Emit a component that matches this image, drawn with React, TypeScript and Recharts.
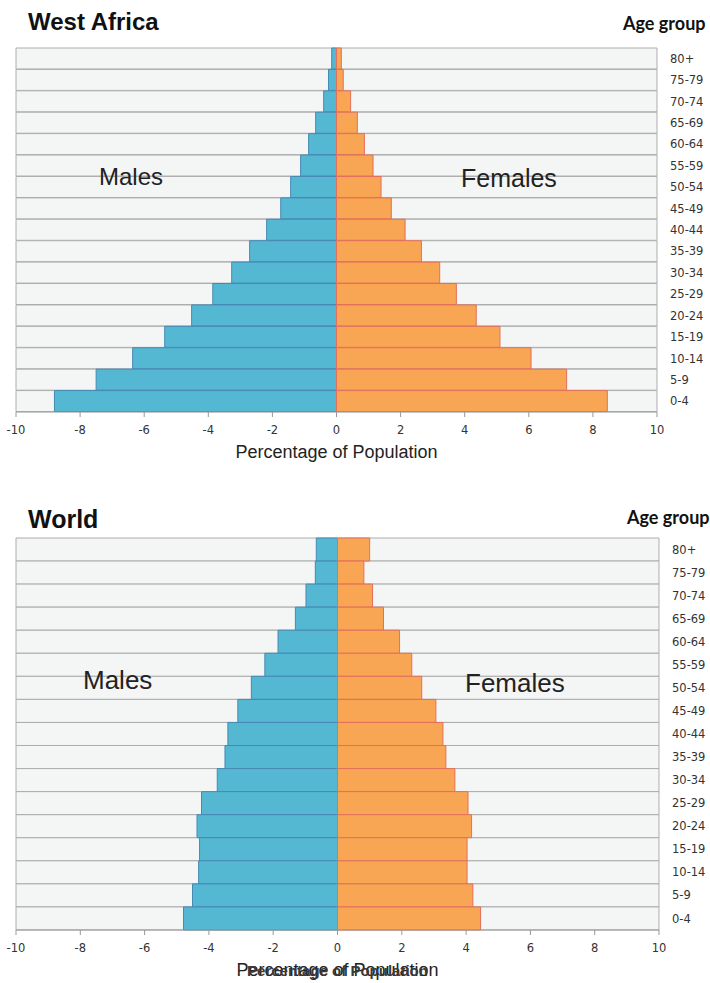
import React from "react";
import { BarChart, Bar, XAxis, YAxis, Label } from "recharts";

const ageGroups = [
	"80+", "75-79", "70-74", "65-69", "60-64", "55-59", "50-54", "45-49", "40-44",
	"35-39", "30-34", "25-29", "20-24", "15-19", "10-14", "5-9", "0-4",
];

// percentages, males drawn to the left
const westAfricaMales = [0.15, 0.25, 0.4, 0.65, 0.87, 1.12, 1.43, 1.74, 2.18, 2.71, 3.27, 3.86, 4.52, 5.36, 6.36, 7.5, 8.8];
const westAfricaFemales = [0.15, 0.21, 0.44, 0.65, 0.87, 1.14, 1.39, 1.71, 2.14, 2.65, 3.22, 3.74, 4.36, 5.1, 6.07, 7.18, 8.45];
const worldMales = [0.66, 0.69, 0.98, 1.31, 1.85, 2.26, 2.68, 3.1, 3.41, 3.5, 3.74, 4.23, 4.37, 4.29, 4.32, 4.51, 4.79];
const worldFemales = [1.0, 0.82, 1.09, 1.43, 1.93, 2.31, 2.62, 3.06, 3.28, 3.37, 3.65, 4.06, 4.17, 4.03, 4.03, 4.21, 4.45];

const xTicks = [-10, -8, -6, -4, -2, 0, 2, 4, 6, 8, 10];

const buildRows = (males: number[], females: number[]) =>
	ageGroups.map((age, i) => ({ age, Males: -males[i], Females: females[i] }));

const tickStyle = { fontFamily: "DejaVu Sans", fontSize: 11.5, fill: "#333" };
const sans = "Liberation Sans, Arial, sans-serif";

interface PyramidProps {
	rows: { age: string; Males: number; Females: number }[];
	top: number;
	height: number;
	marginRight: number;
	marginBottom: number;
	doubleLabel?: boolean;
}

const Pyramid: React.FC<PyramidProps> = ({ rows, top, height, marginRight, marginBottom, doubleLabel }) => (
	<div style={{ position: "absolute", left: 0, top }}>
		<BarChart
			width={710}
			height={height}
			data={rows}
			layout="vertical"
			stackOffset="sign"
			barCategoryGap={0}
			margin={{ top: 48, right: marginRight, left: 16, bottom: marginBottom }}
		>
			<XAxis
				type="number"
				domain={[-10, 10]}
				ticks={xTicks}
				tick={tickStyle}
				tickSize={5}
				tickMargin={9}
				stroke="#999"
				height={46}
			>
				<Label
					value="Percentage of Population"
					position="insideBottom"
					offset={0}
					style={{ fontFamily: sans, fontSize: 18, fill: "#222" }}
				/>
				{doubleLabel && (
					<Label
						value="Percentage of Population"
						position="insideBottom"
						offset={0}
						style={{ fontFamily: sans, fontSize: 15, fontWeight: "bold", fill: "#3a3a3a" }}
					/>
				)}
			</XAxis>
			<YAxis
				type="category"
				dataKey="age"
				orientation="right"
				width={45}
				axisLine={false}
				tickLine={false}
				tickSize={0}
				tickMargin={13}
				tick={tickStyle}
				interval={0}
			/>
			<Bar
				dataKey="Males"
				stackId="p"
				fill="#55b8d2"
				stroke="#4689b4"
				strokeWidth={1}
				background={{ fill: "#f4f5f5", stroke: "#adadad", strokeWidth: 1 }}
				isAnimationActive={false}
			/>
			<Bar
				dataKey="Females"
				stackId="p"
				fill="#f8a654"
				stroke="#e2705c"
				strokeWidth={1}
				isAnimationActive={false}
			/>
		</BarChart>
	</div>
);

export default function App() {
	return (
		<div style={{ position: "absolute", left: 0, top: 0, width: 710, height: 983, background: "#fff" }}>
			<Pyramid rows={buildRows(westAfricaMales, westAfricaFemales)} top={0} height={470} marginRight={8} marginBottom={12} />
			<Pyramid rows={buildRows(worldMales, worldFemales)} top={490} height={493} marginRight={6} marginBottom={7} doubleLabel />
			<svg width={710} height={983} style={{ position: "absolute", left: 0, top: 0, pointerEvents: "none" }}>
				<text x={28} y={30} fontFamily={sans} fontWeight="bold" fontSize={24} fill="#111">West Africa</text>
				<text x={623} y={30} fontFamily="Lato" fontWeight="bold" fontSize={18} fill="#111">Age group</text>
				<text x={99} y={185} fontFamily={sans} fontSize={24} fill="#222">Males</text>
				<text x={461} y={187} fontFamily={sans} fontSize={25} fill="#222">Females</text>
				<text x={28} y={528} fontFamily={sans} fontWeight="bold" fontSize={25} fill="#111">World</text>
				<text x={627} y={524} fontFamily="Lato" fontWeight="bold" fontSize={18} fill="#111">Age group</text>
				<text x={83} y={689} fontFamily={sans} fontSize={26} fill="#222">Males</text>
				<text x={465} y={692} fontFamily={sans} fontSize={26} fill="#222">Females</text>
			</svg>
		</div>
	);
}
